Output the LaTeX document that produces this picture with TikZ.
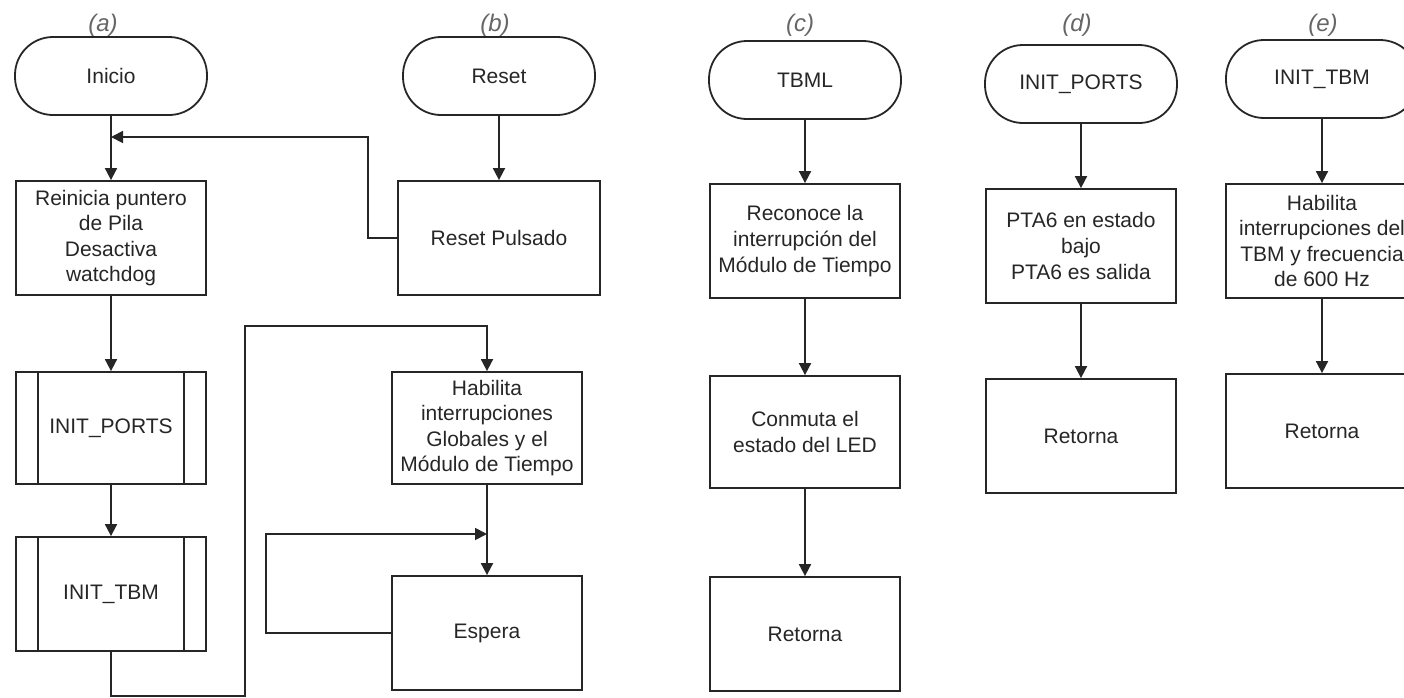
\documentclass[tikz,border=0pt]{standalone}
\usepackage{fontspec}
\setmainfont{Liberation Sans}
\usetikzlibrary{arrows.meta}
\begin{document}
\begin{tikzpicture}[x=0.5pt,y=-0.5pt,
  every node/.style={font=\fontsize{10.5}{12.8}\selectfont, text=black!85},
  term/.style={draw=black!85, line width=0.9pt, rounded corners=19pt, minimum width=96pt, minimum height=39pt, inner sep=0pt},
  proc/.style={draw=black!85, line width=0.9pt, minimum width=95pt, minimum height=57pt, inner sep=0pt, align=center},
  lab/.style={font=\fontsize{12}{14}\selectfont\itshape, text=black!60},
  arr/.style={line width=0.9pt, draw=black!85, -{Triangle[length=6pt,width=6pt]}},
  ln/.style={line width=0.9pt, draw=black!85}]
\useasboundingbox (0,0) rectangle (1404,697);
\clip (0,0) rectangle (1404,697);
% (a)
\node[lab] (la) at (103,25) {(a)};
\node[term] (ini) at (111,76) {Inicio};
\node[proc] (rei) at (111,238) {Reinicia puntero\\de Pila\\Desactiva\\watchdog};
\node[proc, minimum height=56pt] (ip) at (111,428) {INIT\_PORTS};
\node[proc] (it) at (111,594) {INIT\_TBM};
\foreach \n in {ip,it}{
  \draw[ln] ([xshift=11.5pt]\n.north west) -- ([xshift=11.5pt]\n.south west);
  \draw[ln] ([xshift=-11.5pt]\n.north east) -- ([xshift=-11.5pt]\n.south east);
}
% (b)
\node[lab] (lb) at (495,25) {(b)};
\node[term] (rst) at (499,76) {Reset};
\node[proc, minimum width=101pt] (rp) at (499,238) {Reset Pulsado};
\node[proc, minimum height=56pt] (hab) at (487,428) {Habilita\\interrupciones\\Globales y el\\Módulo de Tiempo};
\node[proc] (esp) at (487,633) {Espera};
\coordinate (m1) at (111,137);
\coordinate (m2) at (487,534);
\draw[arr] (ini.south) -- (rei.north);
\draw[arr] (rei.south) -- (ip.north);
\draw[arr] (ip.south) -- (it.north);
\draw[arr] (rst.south) -- (rp.north);
\draw[arr] (rp.west) -- ++(-29,0) |- (m1);
\draw[arr] (it.south) -- ++(0,44) -| (245,326) -| (hab.north);
\draw[arr] (hab.south) -- (esp.north);
\draw[arr] (esp.west) -- ++(-125,0) |- (m2);
% (c)
\node[lab] (lc) at (800,25) {(c)};
\node[term] (tbml) at (805,80) {TBML};
\node[proc] (rec) at (805,241) {Reconoce la\\interrupción del\\Módulo de Tiempo};
\node[proc, minimum height=56pt] (con) at (805,432) {Conmuta el\\estado del LED};
\node[proc] (retc) at (805,634) {Retorna};
\draw[arr] (tbml.south) -- (rec.north);
\draw[arr] (rec.south) -- (con.north);
\draw[arr] (con.south) -- (retc.north);
% (d)
\node[lab] (ld) at (1077,25) {(d)};
\node[term] (tip) at (1081,84) {INIT\_PORTS};
\node[proc] (pta) at (1081,246) {PTA6 en estado\\bajo\\PTA6 es salida};
\node[proc] (retd) at (1081,436) {Retorna};
\draw[arr] (tip.south) -- (pta.north);
\draw[arr] (pta.south) -- (retd.north);
% (e)
\node[lab] (le) at (1323,25) {(e)};
\node[term] (tit) at (1322,79) {INIT\_TBM};
\node[proc, minimum width=96pt] (hae) at (1322,241) {Habilita\\interrupciones del\\TBM y frecuencia\\de 600 Hz};
\node[proc, minimum width=96pt] (rete) at (1322,431) {Retorna};
\draw[arr] (tit.south) -- (hae.north);
\draw[arr] (hae.south) -- (rete.north);
\end{tikzpicture}
\end{document}
